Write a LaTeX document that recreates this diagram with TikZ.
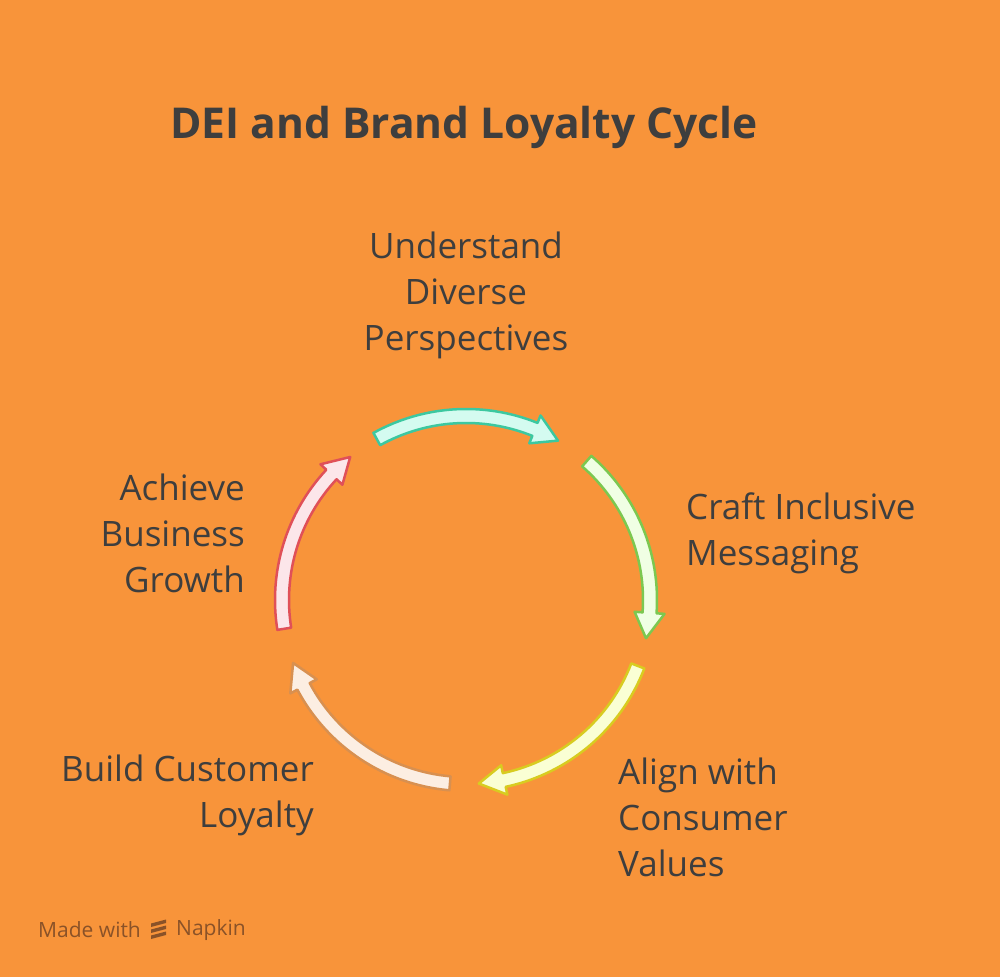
\documentclass[tikz,border=0pt]{standalone}
\usepackage{fontspec}
\setmainfont{Open Sans}
\begin{document}
\begin{tikzpicture}[x=1pt,y=1pt,
  lbl/.style={font=\fontsize{35}{46}\selectfont, text=txt, inner sep=0pt},
  arr/.style={line width=2.5pt, line join=round}]
\definecolor{bg}{HTML}{F8943A}
\definecolor{txt}{HTML}{3E3E3E}
\definecolor{s1}{HTML}{3CC8A0}\definecolor{f1}{HTML}{D4FBF0}
\definecolor{s2}{HTML}{7CC850}\definecolor{f2}{HTML}{F0FFE4}
\definecolor{s3}{HTML}{D8CC20}\definecolor{f3}{HTML}{FAFFD4}
\definecolor{s4}{HTML}{D89050}\definecolor{f4}{HTML}{FCEEE2}
\definecolor{s5}{HTML}{E05058}\definecolor{f5}{HTML}{FCE6EA}
\fill[bg] (0,0) rectangle (1000,977);
\useasboundingbox (0,0) rectangle (1000,977);
\node[anchor=west, font=\bfseries\fontsize{42.5}{48}\selectfont, text=txt, inner sep=0pt] (title) at (170,850) {DEI and Brand Loyalty Cycle};
\def\R{184}\def\w{7}\def\hw{15}\def\hl{8}
\newcommand\cycarrow[4]{%
 \pgfmathsetmacro\ah{#2+\hl}
 \draw[arr, draw=#3, fill=#4, shift={(466,377)}]
  (#1:\R+\w) arc[start angle=#1, end angle=\ah, radius=\R+\w]
  -- (\ah:\R+\hw) -- (#2:\R) -- (\ah:\R-\hw) -- (\ah:\R-\w)
  arc[start angle=\ah, end angle=#1, radius=\R-\w] -- cycle;}
\cycarrow{119}{60}{s1}{f1}
\cycarrow{49}{-12}{s2}{f2}
\cycarrow{-21}{-86}{s3}{f3}
\cycarrow{-95}{-160}{s4}{f4}
\cycarrow{-171}{-231}{s5}{f5}
\node[lbl, align=center] (n1) at (466,682) {Understand\\Diverse\\Perspectives};
\node[lbl, align=left, anchor=west] (n2) at (686,444) {Craft Inclusive\\Messaging};
\node[lbl, align=left, anchor=west] (n3) at (618,160) {Align with\\Consumer\\Values};
\node[lbl, align=right, anchor=east] (n4) at (314,182) {Build Customer\\Loyalty};
\node[lbl, align=right, anchor=east] (n5) at (245,444) {Achieve\\Business\\Growth};
\definecolor{brn}{HTML}{8A5228}
\node[anchor=west, inner sep=0pt, text=brn, font=\fontsize{21}{22}\selectfont] (m1) at (38,47) {Made with};
\foreach \yy in {0,6,12}{\fill[brn] (151,38+\yy) -- (166,42+\yy) -- (166,45.5+\yy) -- (151,41.5+\yy) -- cycle;}
\node[anchor=west, inner sep=0pt, text=brn, font=\fontsize{21}{22}\selectfont] (m2) at (176,47) {Napkin};
\end{tikzpicture}
\end{document}
